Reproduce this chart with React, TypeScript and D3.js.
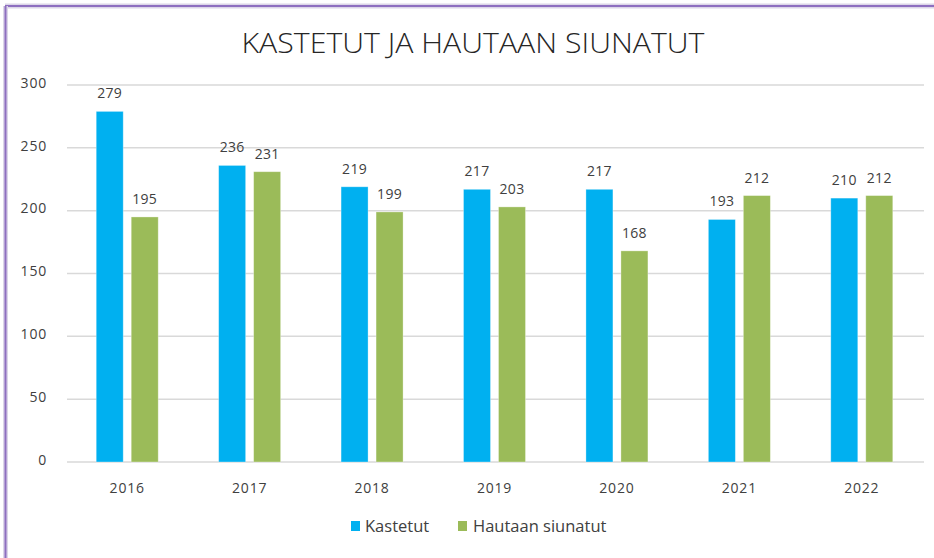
import React from "react";
import * as d3 from "d3";

const categories = ["2016", "2017", "2018", "2019", "2020", "2021", "2022"];
const kastetut = [279, 236, 219, 217, 217, 193, 210];
const hautaan = [195, 231, 199, 203, 168, 212, 212];
const yTicks = [0, 50, 100, 150, 200, 250, 300];
const seriesNames = ["Kastetut", "Hautaan siunatut"];
const colors = ["#00B0F0", "#9BBB59"];

const W = 934;
const H = 558;
const left = 67;
const right = 924;
const top = 85;
const bottom = 462;
const font = "'Open Sans', 'Noto Sans', sans-serif";

export default function App() {
  const x = d3.scaleBand<string>().domain(categories).range([left, right]).paddingInner(0).paddingOuter(0);
  const y = d3.scaleLinear().domain([0, 300]).range([bottom, top]);
  const barW = 27;
  const gap = 8;
  const series = [kastetut, hautaan];
  return (
    <svg width={W} height={H} style={{ position: "absolute", left: 0, top: 0, background: "#fff" }}>
      <rect x={0} y={0} width={W} height={H} fill="#fff" />
      {/* frame */}
      <line x1={5} y1={6} x2={W} y2={6} stroke="#DCD6E8" strokeWidth={5} />
      <line x1={5} y1={6} x2={W} y2={6} stroke="#8E6FC0" strokeWidth={2} />
      <line x1={5.5} y1={6} x2={5.5} y2={H} stroke="#DCD6E8" strokeWidth={5} />
      <line x1={5.5} y1={6} x2={5.5} y2={H} stroke="#8E6FC0" strokeWidth={2} />
      <text x={473} y={53} textAnchor="middle" fontFamily={font} fontWeight={300} fontSize={27} fill="#262626" textLength={463} lengthAdjust="spacingAndGlyphs">
        KASTETUT JA HAUTAAN SIUNATUT
      </text>
      {yTicks.map((t) => (
        <g key={t}>
          <line x1={left} x2={right} y1={y(t)} y2={y(t)} stroke="#D9D9D9" strokeWidth={1.5} />
          <text x={47} y={y(t)} dy="0.2em" textAnchor="end" fontFamily={font} fontSize={14} letterSpacing={0.8} fill="#404040">
            {t}
          </text>
        </g>
      ))}
      {categories.map((c, i) => {
        const cx = (x(c) as number) + x.bandwidth() / 2 - 1;
        return (
          <g key={c}>
            {series.map((s, j) => {
              const bx = j === 0 ? cx - gap / 2 - barW : cx + gap / 2;
              const v = s[i];
              return (
                <g key={j}>
                  <rect x={bx} y={y(v)} width={barW} height={y(0) - y(v)} fill={colors[j]} stroke="#fff" strokeOpacity={0.4} strokeWidth={0.8} />
                  <text x={bx + barW / 2} y={y(v) - 13} textAnchor="middle" fontFamily={font} fontSize={14} letterSpacing={0.3} fill="#404040">
                    {v}
                  </text>
                </g>
              );
            })}
            <text x={cx} y={493} textAnchor="middle" fontFamily={font} fontSize={14} letterSpacing={0.8} fill="#404040">
              {c}
            </text>
          </g>
        );
      })}
      {/* legend */}
      <rect x={351} y={521} width={9} height={10} fill={colors[0]} />
      <text x={365} y={532} fontFamily={font} fontSize={16.5} fill="#404040">{seriesNames[0]}</text>
      <rect x={458} y={521} width={9} height={10} fill={colors[1]} />
      <text x={473} y={532} fontFamily={font} fontSize={16.5} fill="#404040">{seriesNames[1]}</text>
    </svg>
  );
}
